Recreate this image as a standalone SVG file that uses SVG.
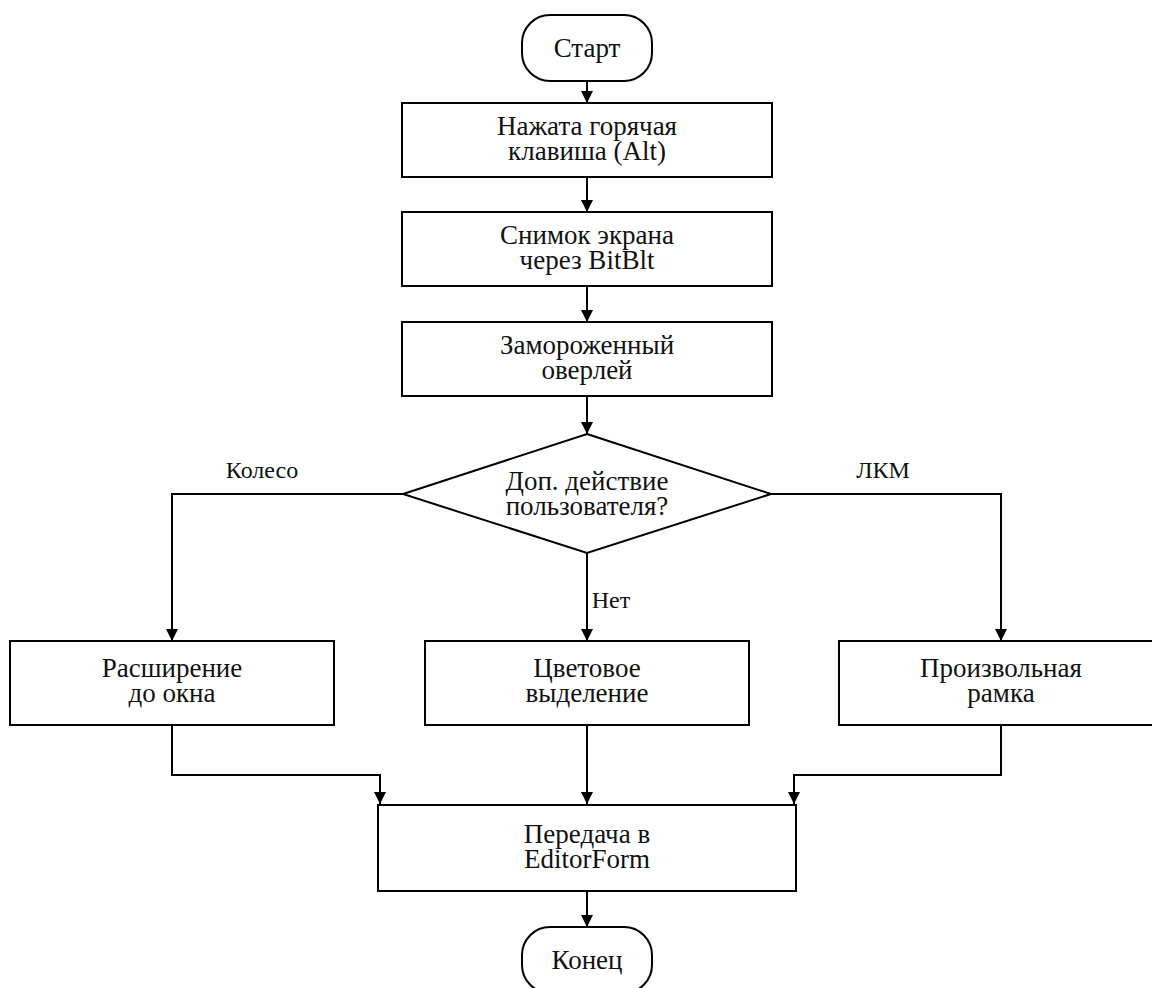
<svg xmlns="http://www.w3.org/2000/svg" width="1152" height="988" viewBox="0 0 1152 988">
<defs>
<marker id="ah" viewBox="0 0 10 10" refX="10" refY="5" markerWidth="12" markerHeight="12" markerUnits="userSpaceOnUse" orient="auto">
<path d="M0,0 L10,5 L0,10 Z" fill="#000"/>
</marker>
<style>
.n{fill:#fff;stroke:#000;stroke-width:2}
.t{font-size:27px;fill:#111;text-anchor:middle}
.c{fill:none;stroke:#000;stroke-width:2;marker-end:url(#ah)}
.l{font-size:24px;fill:#111;text-anchor:middle}
</style>
</defs>
<rect width="1152" height="988" fill="#fff"/>
<g font-family="Liberation Serif, DejaVu Serif, serif">
<g id="connectors">
<path class="c" d="M587,81 V103"/>
<path class="c" d="M587,177 V212"/>
<path class="c" d="M587,286 V322"/>
<path class="c" d="M587,396 V434"/>
<path class="c" d="M403,494 H172 V641"/>
<path class="c" d="M771,494 H1001 V641"/>
<path class="c" d="M587,553 V641"/>
<path class="c" d="M172,725 V775 H380 V804"/>
<path class="c" d="M1001,725 V775 H794 V804"/>
<path class="c" d="M587,725 V804"/>
<path class="c" d="M587,891 V927"/>
<text class="l" x="262" y="478">Колесо</text>
<text class="l" x="883" y="478">ЛКМ</text>
<text class="l" x="611" y="608">Нет</text>
</g>
<g id="start"><rect class="n" x="522" y="15" width="130" height="66" rx="28"/><text class="t" x="587" y="57">Старт</text></g>
<g id="hotkey"><rect class="n" x="402" y="103" width="370" height="74"/><text class="t" x="587" y="135">Нажата горячая</text><text class="t" x="587" y="160">клавиша (Alt)</text></g>
<g id="screenshot"><rect class="n" x="402" y="212" width="370" height="74"/><text class="t" x="587" y="244">Снимок экрана</text><text class="t" x="587" y="269">через BitBlt</text></g>
<g id="overlay"><rect class="n" x="402" y="322" width="370" height="74"/><text class="t" x="587" y="354">Замороженный</text><text class="t" x="587" y="379">оверлей</text></g>
<g id="decision"><polygon class="n" points="587,434 771,494 587,553 403,494"/><text class="t" x="587" y="490">Доп. действие</text><text class="t" x="587" y="515">пользователя?</text></g>
<g id="expand"><rect class="n" x="10" y="641" width="324" height="84"/><text class="t" x="172" y="677">Расширение</text><text class="t" x="172" y="702">до окна</text></g>
<g id="color"><rect class="n" x="425" y="641" width="324" height="84"/><text class="t" x="587" y="677">Цветовое</text><text class="t" x="587" y="702">выделение</text></g>
<g id="frame"><rect class="n" x="839" y="641" width="324" height="84"/><text class="t" x="1001" y="677">Произвольная</text><text class="t" x="1001" y="702">рамка</text></g>
<g id="editor"><rect class="n" x="378" y="805" width="418" height="86"/><text class="t" x="587" y="843">Передача в</text><text class="t" x="587" y="868">EditorForm</text></g>
<g id="end"><rect class="n" x="522" y="927" width="130" height="66" rx="28"/><text class="t" x="587" y="969">Конец</text></g>
</g>
</svg>
